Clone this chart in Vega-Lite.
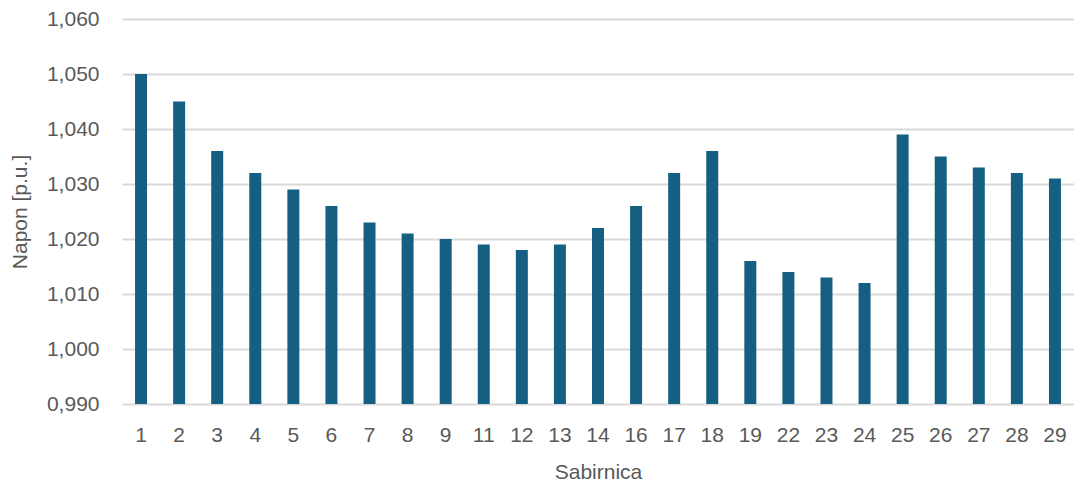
{
  "$schema": "https://vega.github.io/schema/vega-lite/v6.json",
  "autosize": "none",
  "width": 952,
  "height": 385,
  "padding": {"left": 122, "top": 19, "right": 0, "bottom": 82},
  "background": "white",
  "data": {
    "values": [
      {"bus": "1", "v": 1.050},
      {"bus": "2", "v": 1.045},
      {"bus": "3", "v": 1.036},
      {"bus": "4", "v": 1.032},
      {"bus": "5", "v": 1.029},
      {"bus": "6", "v": 1.026},
      {"bus": "7", "v": 1.023},
      {"bus": "8", "v": 1.021},
      {"bus": "9", "v": 1.020},
      {"bus": "11", "v": 1.019},
      {"bus": "12", "v": 1.018},
      {"bus": "13", "v": 1.019},
      {"bus": "14", "v": 1.022},
      {"bus": "16", "v": 1.026},
      {"bus": "17", "v": 1.032},
      {"bus": "18", "v": 1.036},
      {"bus": "19", "v": 1.016},
      {"bus": "22", "v": 1.014},
      {"bus": "23", "v": 1.013},
      {"bus": "24", "v": 1.012},
      {"bus": "25", "v": 1.039},
      {"bus": "26", "v": 1.035},
      {"bus": "27", "v": 1.033},
      {"bus": "28", "v": 1.032},
      {"bus": "29", "v": 1.031}
    ]
  },
  "mark": {"type": "bar", "color": "#156082", "clip": true},
  "encoding": {
    "x": {
      "field": "bus",
      "type": "ordinal",
      "sort": null,
      "scale": {"paddingInner": 0.685, "paddingOuter": 0.3425},
      "axis": {
        "title": "Sabirnica",
        "labelAngle": 0,
        "ticks": false,
        "domain": false,
        "labelPadding": 20,
        "titlePadding": 16
      }
    },
    "y": {
      "field": "v",
      "type": "quantitative",
      "scale": {"domain": [0.99, 1.06], "zero": false, "nice": false},
      "axis": {
        "title": "Napon [p.u.]",
        "values": [0.99, 1.0, 1.01, 1.02, 1.03, 1.04, 1.05, 1.06],
        "labelExpr": "replace(format(datum.value, '.3f'), '.', ',')",
        "ticks": false,
        "domain": false,
        "labelPadding": 23,
        "titlePadding": 16
      }
    },
    "y2": {"datum": 0.99}
  },
  "config": {
    "view": {"stroke": null},
    "axis": {
      "labelFont": "Liberation Sans",
      "titleFont": "Liberation Sans",
      "labelFontSize": 21,
      "titleFontSize": 21,
      "labelColor": "#595959",
      "titleColor": "#595959",
      "titleFontWeight": "normal",
      "gridColor": "#d9d9d9",
      "gridWidth": 2
    },
    "axisX": {"grid": false}
  }
}
